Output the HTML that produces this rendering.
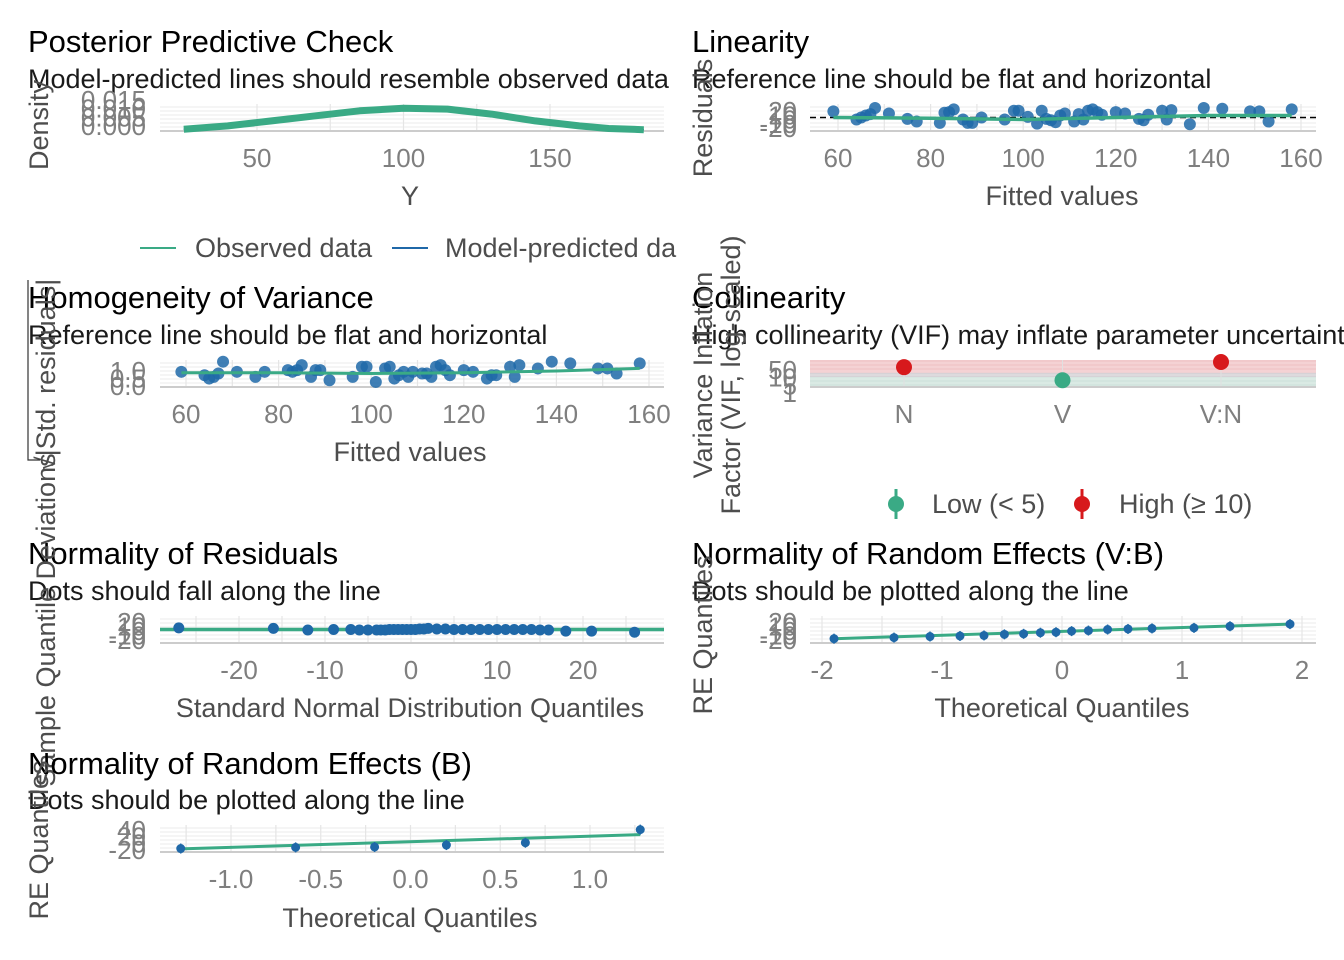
<!DOCTYPE html>
<html><head><meta charset="utf-8"><style>
body{margin:0;background:#fff}
svg{display:block;font-family:"Liberation Sans",sans-serif}
.t{font-size:31px;fill:#000}
.s{font-size:27px;fill:#1a1a1a}
.tk{font-size:26px;fill:#7f7f7f}
.ax{font-size:27px;fill:#4d4d4d}
</style></head><body>
<svg id="c" width="1344" height="960" viewBox="0 0 1344 960"></svg>
<script>
// ---- data ----
const densX=[25,40,55,70,85,100,115,130,145,160,170,182];
const densObs=[0.001,0.003,0.006,0.009,0.012,0.0135,0.013,0.010,0.006,0.003,0.0015,0.0008];
const densPred=[0.001,0.003,0.0065,0.0095,0.0125,0.0145,0.014,0.0105,0.0065,0.003,0.0015,0.0008];
const fitted=[59,64,65,66,67,68,71,75,77,82,83,84,85,87,88,89,91,96,98,99,101,103,104,105,106,107,108,109,111,112,113,114,115,116,117,120,122,125,126,127,130,131,132,136,139,143,149,151,153,158];
const resid=[9,-3,0,3,5,14,6,-2,-6,-8,7,8,12,-3,-8,-8,0,-3,10,10,1,-9,10,-2,-4,-7,3,6,-6,5,-3,10,12,8,4,8,6,-2,-4,4,10,-3,11,-10,14,13,9,9,-6,12];
const sqrtStd=[0.9,0.7,0.5,0.6,0.8,1.5,0.9,0.6,0.9,1.0,0.9,1.0,1.3,0.6,1.0,1.0,0.4,0.6,1.2,1.2,0.3,1.1,1.2,0.5,0.7,0.9,0.6,0.9,0.8,0.8,0.6,1.2,1.3,1.0,0.7,1.0,0.9,0.5,0.7,0.7,1.2,0.6,1.3,1.1,1.5,1.4,1.1,1.1,0.8,1.4];
const vifTerms=["N","V","V:N"];
const vifVals=[25,3,60];
const qqX=[-27,-16,-12,-9,-7,-6,-5,-4,-3.5,-3,-2.5,-2,-1.5,-1,-0.5,0,0.5,1,1.5,2,3,4,5,6,7,8,9,10,11,12,13,14,15,16,18,21,26];
const qqY=[3,2,-1,0,0,-1,-1,-1,-1,-1,0,0,0,0,0,0,0,1,1,2,1,1,0,0,0,0,0,0,0,0,0,0,-1,-1,-3,-3,-5];
const re1X=[-1.9,-1.4,-1.1,-0.85,-0.65,-0.48,-0.32,-0.18,-0.05,0.08,0.22,0.38,0.55,0.75,1.1,1.4,1.9];
const re1Y=[-17,-15,-13,-12,-11,-9,-8,-6,-5,-3,-2,0,1,2,3,6,10];
const re2X=[-1.28,-0.64,-0.2,0.2,0.64,1.28];
const re2Y=[-16,-13,-12,-7,-1,33];
// ---- helpers ----
const svg=document.getElementById('c');const NS='http://www.w3.org/2000/svg';
function mk(tag,at,parent){const e=document.createElementNS(NS,tag);for(const k in at)e.setAttribute(k,at[k]);(parent||svg).appendChild(e);return e;}
function txt(x,y,s,cls,anchor,rot){const e=mk('text',{x:x,y:y,class:cls,'text-anchor':anchor||'start'});if(rot)e.setAttribute('transform','rotate(-90 '+x+' '+y+')');e.textContent=s;return e;}
function lin(d0,d1,r0,r1){return v=>r0+(v-d0)/(d1-d0)*(r1-r0);}
function panel(x0,x1,y0,y1,xt,xs,name){
  const g=mk('g',{});
  mk('rect',{x:x0,y:y0,width:x1-x0,height:y1-y0,fill:'#fff'},g);
  for(let y=y0+3;y<y1;y+=4)mk('line',{x1:x0,x2:x1,y1:y,y2:y,stroke:'#ebebeb','stroke-width':1},g);
  xt.forEach(v=>{mk('line',{x1:xs(v),x2:xs(v),y1:y0,y2:y1,stroke:'#e5e5e5','stroke-width':1.2},g);});
  mk('line',{x1:x0,x2:x1,y1:y1,y2:y1,stroke:'#cccccc','stroke-width':2},g);
  return g;
}
function yticks(x,y0,y1,labels){labels.forEach((l,i)=>{const e=txt(x,y0+ (y1-y0)*i/(labels.length-1)+9,l,'tk','end');});}
function xtl(xs,vals,labels,y){vals.forEach((v,i)=>{const e=txt(xs(v),y,labels[i],'tk','middle');});}
function pt(g,x,y,r,c,name){const e=mk('circle',{cx:x,cy:y,r:r,fill:c},g);return e;}
function path(g,xs,ys,X,Y,c,w){let d='';X.forEach((v,i)=>{d+=(i?'L':'M')+xs(v).toFixed(1)+' '+ys(Y[i]).toFixed(1);});return mk('path',{d:d,fill:'none',stroke:c,'stroke-width':w,'stroke-linejoin':'round'},g);}
const GREEN='#3aaa85',BLUE='#1f68a8';

// ---- Panel 1: PPC ----
txt(28,52,'Posterior Predictive Check','t');txt(28,88,'Model-predicted lines should resemble observed data','s');
let xs=lin(50,150,257,550),ys=lin(0,0.016,131,104);
let g=panel(160,664,104,131,[50,75,100,125,150],xs,'ppc-panel');
for(let k=0;k<6;k++){const p=path(g,xs,ys,densX,densPred.map(v=>v*(0.97+k*0.01)),BLUE,1.5);p.setAttribute('opacity',0.4);}
let p=path(g,xs,ys,densX,densObs,GREEN,7);
yticks(146,100,126,['0.015','0.010','0.005','0.000']);
xtl(xs,[50,100,150],['50','100','150'],167);
txt(410,205,'Y','ax','middle');txt(48,125,'Density','ax','middle',true);
mk('line',{x1:140,x2:176,y1:248,y2:248,stroke:GREEN,'stroke-width':2});
txt(195,257,'Observed data','ax');
mk('line',{x1:392,x2:428,y1:248,y2:248,stroke:BLUE,'stroke-width':2});
txt(445,257,'Model-predicted da','ax');

// ---- Panel 2: Linearity ----
txt(692,52,'Linearity','t');txt(692,88,'Reference line should be flat and horizontal','s');
xs=lin(60,160,838,1301);ys=lin(-20,20,131,104);
g=panel(810,1316,104,131,[60,70,80,90,100,110,120,130,140,150,160],xs,'linearity-panel');
mk('line',{x1:810,x2:1316,y1:ys(0),y2:ys(0),stroke:'#000','stroke-width':1.5,'stroke-dasharray':'6,4'},g);
fitted.forEach((f,i)=>pt(g,xs(f),ys(resid[i]),6,BLUE,'residual-point').setAttribute('opacity',0.85));
p=path(g,xs,ys,[59,80,100,120,140,158],[0,-1,-3,0,3,3],GREEN,3.5);
yticks(797,111,128,['20','10','0','-10','-20']);
xtl(xs,[60,80,100,120,140,160],['60','80','100','120','140','160'],167);
txt(1062,205,'Fitted values','ax','middle');txt(712,118,'Residuals','ax','middle',true);

// ---- Panel 3: Homogeneity ----
txt(28,308,'Homogeneity of Variance','t');txt(28,344,'Reference line should be flat and horizontal','s');
xs=lin(60,160,186,649);ys=lin(0,1.6,387,360);
g=panel(160,664,360,387,[60,70,80,90,100,110,120,130,140,150,160],xs,'homogeneity-panel');
fitted.forEach((f,i)=>pt(g,xs(f),ys(sqrtStd[i]),6,BLUE,'std-residual-point').setAttribute('opacity',0.85));
p=path(g,xs,ys,[59,80,100,120,140,158],[0.85,0.85,0.8,0.85,0.95,1.1],GREEN,3);
yticks(146,371,386,['1.0','0.5','0.0']);
xtl(xs,[60,80,100,120,140,160],['60','80','100','120','140','160'],423);
txt(410,461,'Fitted values','ax','middle');
txt(55,375,'√|Std. residuals|','ax','middle',true);
mk('path',{d:'M28 280 L28 460 L40 460',fill:'none',stroke:'#333','stroke-width':1.2});

// ---- Panel 4: Collinearity ----
txt(692,308,'Collinearity','t');txt(692,344,'High collinearity (VIF) may inflate parameter uncertainty','s');
xs=i=>904+i*158.5;ys=v=>387-Math.log10(v)/Math.log10(80)*27;
g=mk('g',{});
mk('rect',{x:810,y:360,width:506,height:ys(10)-360,fill:'#f1c9cb'},g);
mk('rect',{x:810,y:ys(10),width:506,height:ys(5)-ys(10),fill:'#d6d2d6'},g);
mk('rect',{x:810,y:ys(5),width:506,height:387-ys(5),fill:'#d3e5df'},g);
for(let y=363;y<387;y+=4)mk('line',{x1:810,x2:1316,y1:y,y2:y,stroke:'#ffffff','stroke-opacity':0.35},g);
vifTerms.forEach((t,i)=>{mk('line',{x1:xs(i),x2:xs(i),y1:360,y2:387,stroke:'#e0e0e0'},g);});
mk('line',{x1:810,x2:1316,y1:387,y2:387,stroke:'#ccc','stroke-width':2},g);
vifVals.forEach((v,i)=>{const c=v>=10?'#d7191c':(v<5?GREEN:'#888');pt(g,xs(i),Math.max(362,ys(v)),8,c,'vif-point');});
yticks(797,370,393,['50','10','5','1']);
vifTerms.forEach((t,i)=>{txt(xs(i),423,t,'tk','middle');});
txt(712,375,'Variance Inflation','ax','middle',true);txt(740,375,'Factor (VIF, log-scaled)','ax','middle',true);
mk('line',{x1:896,x2:896,y1:489,y2:519,stroke:GREEN,'stroke-width':3});pt(svg,896,504,8,GREEN,'legend-low');
txt(932,513,'Low (< 5)','ax');
mk('line',{x1:1082,x2:1082,y1:489,y2:519,stroke:'#d7191c','stroke-width':3});pt(svg,1082,504,8,'#d7191c','legend-high');
txt(1119,513,'High (≥ 10)','ax');

// ---- Panel 5: Normality of residuals ----
txt(28,564,'Normality of Residuals','t');txt(28,600,'Dots should fall along the line','s');
xs=lin(-20,20,239,583);ys=lin(-25,25,643,616);
g=panel(160,664,616,643,[-25,-20,-15,-10,-5,0,5,10,15,20,25],xs,'qq-residuals-panel');
mk('line',{x1:160,x2:664,y1:ys(0),y2:ys(0),stroke:GREEN,'stroke-width':3.5},g);
qqX.forEach((x,i)=>pt(g,xs(x),ys(qqY[i]),5.5,BLUE,'qq-point'));
yticks(146,622,640,['20','10','0','-10','-20']);
xtl(xs,[-20,-10,0,10,20],['-20','-10','0','10','20'],679);
txt(410,717,'Standard Normal Distribution Quantiles','ax','middle');
txt(55,620,'Sample Quantile Deviations','ax','middle',true);

// ---- Panel 6: RE V:B ----
txt(692,564,'Normality of Random Effects (V:B)','t');txt(692,600,'Dots should be plotted along the line','s');
xs=lin(-2,2,822,1302);ys=lin(-25,25,643,616);
g=panel(810,1316,616,643,[-2,-1.5,-1,-0.5,0,0.5,1,1.5,2],xs,'re-vb-panel');
p=path(g,xs,ys,[-1.9,1.9],[-17,10],GREEN,3);
re1X.forEach((x,i)=>{mk('line',{x1:xs(x),x2:xs(x),y1:ys(re1Y[i])-5,y2:ys(re1Y[i])+5,stroke:BLUE,'stroke-width':1.5},g);pt(g,xs(x),ys(re1Y[i]),4.5,BLUE,'re-point');});
yticks(797,622,640,['20','10','0','-10','-20']);
xtl(xs,[-2,-1,0,1,2],['-2','-1','0','1','2'],679);
txt(1062,717,'Theoretical Quantiles','ax','middle');
txt(712,635,'RE Quantiles','ax','middle',true);

// ---- Panel 7: RE B ----
txt(28,774,'Normality of Random Effects (B)','t');txt(28,809,'Dots should be plotted along the line','s');
xs=lin(-1,1,231,590);ys=lin(-25,45,852,825);
g=panel(160,664,825,852,[-1.25,-1,-0.75,-0.5,-0.25,0,0.25,0.5,0.75,1,1.25],xs,'re-b-panel');
p=path(g,xs,ys,[-1.28,1.28],[-17,20],GREEN,3);
re2X.forEach((x,i)=>{mk('line',{x1:xs(x),x2:xs(x),y1:ys(re2Y[i])-5,y2:ys(re2Y[i])+5,stroke:BLUE,'stroke-width':1.5},g);pt(g,xs(x),ys(re2Y[i]),4.5,BLUE,'re-point');});
yticks(146,830,850,['40','20','0','-20']);
xtl(xs,[-1,-0.5,0,0.5,1],['-1.0','-0.5','0.0','0.5','1.0'],888);
txt(410,927,'Theoretical Quantiles','ax','middle');
txt(48,840,'RE Quantiles','ax','middle',true);
</script>
</body></html>
